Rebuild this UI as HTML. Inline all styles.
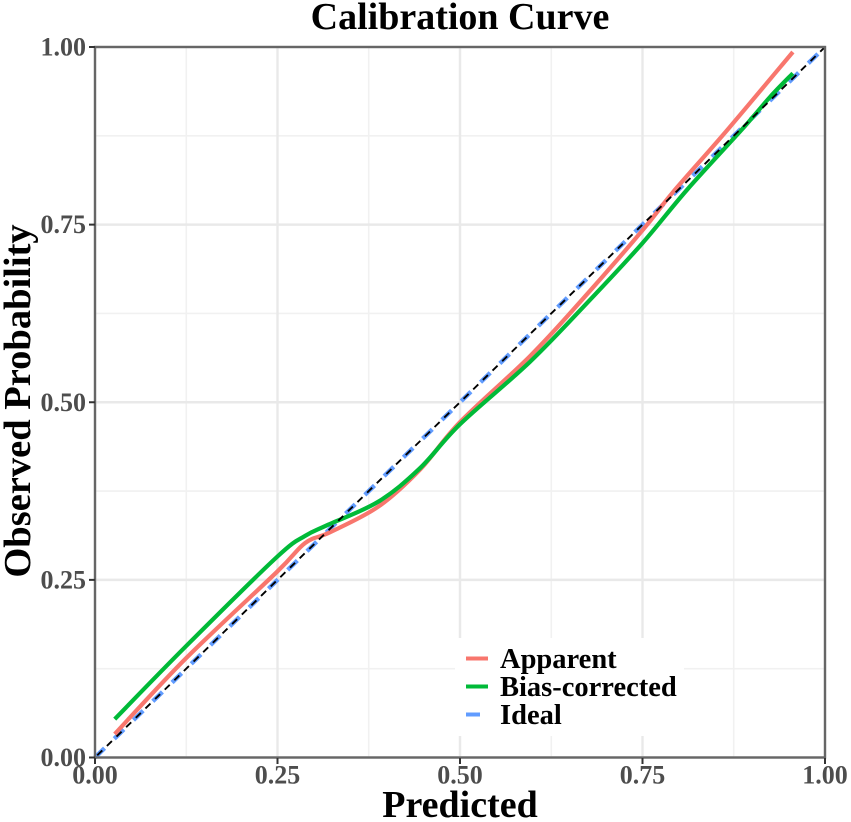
<!DOCTYPE html>
<html lang="en">
<head>
<meta charset="utf-8">
<title>Calibration Curve</title>
<style>
html,body{margin:0;padding:0;background:#fff;width:851px;height:822px;overflow:hidden}
svg{display:block}
text{font-family:"Liberation Serif",serif;font-weight:bold}
</style>
</head>
<body>
<svg id="chart" width="851" height="822" viewBox="0 0 851 822" xmlns="http://www.w3.org/2000/svg"></svg>
<script>
const xTickLabels = ['0.00', '0.25', '0.50', '0.75', '1.00'];
const yTickLabels = ['0.00', '0.25', '0.50', '0.75', '1.00'];
const tickValues = [0, 0.25, 0.5, 0.75, 1];
const minorValues = [0.125, 0.375, 0.625, 0.875];

const apparentX = [0.027, 0.125, 0.249, 0.288, 0.322, 0.388, 0.445, 0.5, 0.596, 0.667, 0.75, 0.792, 0.866, 0.956];
const apparentY = [0.033, 0.140, 0.261, 0.302, 0.317, 0.353, 0.405, 0.472, 0.565, 0.644, 0.742, 0.796, 0.883, 0.993];
const correctedX = [0.027, 0.125, 0.249, 0.288, 0.318, 0.388, 0.445, 0.5, 0.596, 0.678, 0.75, 0.811, 0.888, 0.925, 0.956];
const correctedY = [0.054, 0.157, 0.282, 0.312, 0.327, 0.360, 0.407, 0.469, 0.557, 0.644, 0.724, 0.799, 0.886, 0.930, 0.963];
const idealX = [0, 1];
const idealY = [0, 1];
const legendLabels = ['Apparent', 'Bias-corrected', 'Ideal'];

const NS = 'http://www.w3.org/2000/svg';
const svg = document.getElementById('chart');
const sx = v => 95 + v * 730;
const sy = v => 757.5 - v * 710.5;

function make(tag, attrs, parent) {
  const el = document.createElementNS(NS, tag);
  for (const k in attrs) el.setAttribute(k, attrs[k]);
  (parent || svg).appendChild(el);
  return el;
}

function smoothPath(xs, ys) {
  const p = xs.map((x, i) => [sx(x), sy(ys[i])]);
  let d = 'M' + p[0][0].toFixed(2) + ' ' + p[0][1].toFixed(2);
  for (let i = 0; i < p.length - 1; i++) {
    const a = p[Math.max(i - 1, 0)], b = p[i], c = p[i + 1], e = p[Math.min(i + 2, p.length - 1)];
    const c1x = b[0] + (c[0] - a[0]) / 6, c1y = b[1] + (c[1] - a[1]) / 6;
    const c2x = c[0] - (e[0] - b[0]) / 6, c2y = c[1] - (e[1] - b[1]) / 6;
    d += ' C' + c1x.toFixed(2) + ' ' + c1y.toFixed(2) + ' ' + c2x.toFixed(2) + ' ' + c2y.toFixed(2) + ' ' + c[0].toFixed(2) + ' ' + c[1].toFixed(2);
  }
  return d;
}

minorValues.forEach(v => {
  const gx = make('line', {x1: sx(v), x2: sx(v), y1: sy(0), y2: sy(1), stroke: '#f1f1f1', 'stroke-width': 1.6});
  
  
  const gy = make('line', {x1: sx(0), x2: sx(1), y1: sy(v), y2: sy(v), stroke: '#f1f1f1', 'stroke-width': 1.6});
  
  
});
tickValues.forEach(v => {
  const gx = make('line', {x1: sx(v), x2: sx(v), y1: sy(0), y2: sy(1), stroke: '#e9e9e9', 'stroke-width': 2.4});
  
  
  const gy = make('line', {x1: sx(0), x2: sx(1), y1: sy(v), y2: sy(v), stroke: '#e9e9e9', 'stroke-width': 2.4});
  
  
});

const idealPath = smoothPath(idealX, idealY);
const ideal = make('path', {d: idealPath, fill: 'none', stroke: '#619CFF', 'stroke-width': 4.4, 'stroke-dasharray': '13.4 13.5'});



const apparent = make('path', {d: smoothPath(apparentX, apparentY), fill: 'none', stroke: '#F8766D', 'stroke-width': 4.2});



const corrected = make('path', {d: smoothPath(correctedX, correctedY), fill: 'none', stroke: '#00BA38', 'stroke-width': 4.2});



const reference = make('path', {d: idealPath, fill: 'none', stroke: '#000', 'stroke-width': 1.9, 'stroke-dasharray': '7 6.45', 'stroke-dashoffset': -3.2});



const panel = make('rect', {x: 95, y: 47, width: 730, height: 710.5, fill: 'none', stroke: '#666', 'stroke-width': 2.4});



tickValues.forEach((v, i) => {
  const tx = make('line', {x1: sx(v), x2: sx(v), y1: 758, y2: 764, stroke: '#333', 'stroke-width': 2});
  
  
  const ty = make('line', {x1: 89, x2: 95, y1: sy(v), y2: sy(v), stroke: '#333', 'stroke-width': 2});
  
  
  const xl = make('text', {x: sx(v), y: 783.5, 'text-anchor': 'middle', 'font-size': 26, fill: '#4d4d4d'});
  xl.textContent = xTickLabels[i];
  
  
  const yl = make('text', {x: 86, y: sy(v) + 8.5, 'text-anchor': 'end', 'font-size': 26, fill: '#4d4d4d'});
  yl.textContent = yTickLabels[i];
  
  
});

const title = make('text', {x: 460, y: 29, 'text-anchor': 'middle', 'font-size': 38, fill: '#000'});
title.textContent = 'Calibration Curve';



const xTitle = make('text', {x: 460, y: 817, 'text-anchor': 'middle', 'font-size': 38, fill: '#000'});
xTitle.textContent = 'Predicted';



const yTitle = make('text', {x: 0, y: 0, 'text-anchor': 'middle', 'font-size': 38.5, fill: '#000', transform: 'translate(30 401) rotate(-90)'});
yTitle.textContent = 'Observed Probability';



const legendBg = make('rect', {x: 455, y: 638, width: 229, height: 98, fill: '#fff'});



const legendColors = ['#F8766D', '#00BA38', '#619CFF'];
const legendKeyEnds = [488, 488, 480];
const legendRows = [658, 686, 714];
legendLabels.forEach((label, i) => {
  const key = make('line', {x1: 466, x2: legendKeyEnds[i], y1: legendRows[i] + 0.5, y2: legendRows[i] + 0.5, stroke: legendColors[i], 'stroke-width': 4});
  
  
  const txt = make('text', {x: 500, y: legendRows[i] + 10, 'font-size': 28.5, fill: '#000'});
  txt.textContent = label;
  
  
});
</script>
</body>
</html>
